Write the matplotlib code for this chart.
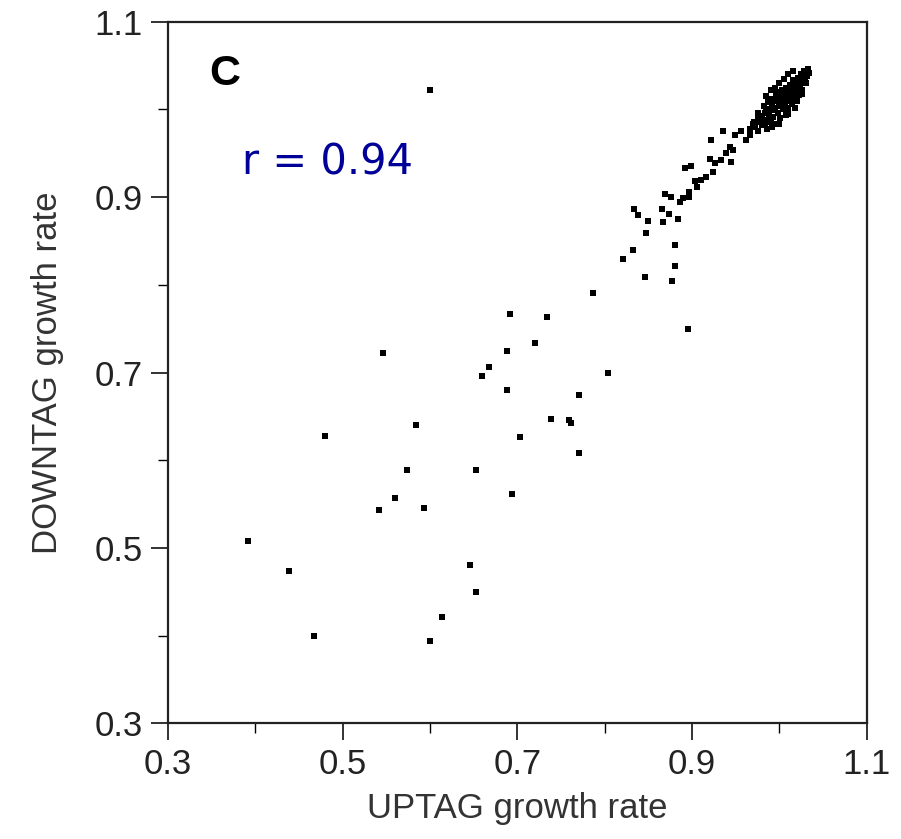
import numpy as np
import matplotlib
matplotlib.use("Agg")
import matplotlib.pyplot as plt
from matplotlib.ticker import MultipleLocator

plt.rcParams['font.family'] = ['Liberation Sans', 'DejaVu Sans']

# scattered strains (UPTAG, DOWNTAG growth rate)
up_low = [0.546, 0.668, 0.660, 0.480, 0.584, 0.574, 0.653, 0.560, 0.541, 0.593,
          0.391, 0.439, 0.646, 0.653, 0.614, 0.467, 0.600, 0.600]
down_low = [0.722, 0.706, 0.696, 0.628, 0.640, 0.589, 0.589, 0.557, 0.543, 0.546,
            0.508, 0.474, 0.480, 0.450, 0.421, 0.400, 0.394, 1.022]

up_mid = [0.786, 0.691, 0.734, 0.895, 0.720, 0.688, 0.688, 0.804, 0.771, 0.739,
          0.759, 0.761, 0.703, 0.770, 0.694,
          0.846, 0.877, 0.881, 0.881, 0.821, 0.832, 0.847, 0.834, 0.838, 0.849,
          0.865, 0.874, 0.867, 0.884, 0.869, 0.876, 0.886, 0.897, 0.897, 0.899,
          0.892, 0.903, 0.910, 0.916, 0.924, 0.920, 0.926, 0.922, 0.935, 0.933,
          0.939, 0.945, 0.943, 0.947, 0.949, 0.956, 0.962, 0.966, 0.890, 0.906]
down_mid = [0.791, 0.767, 0.763, 0.750, 0.734, 0.724, 0.680, 0.699, 0.674, 0.647,
            0.646, 0.642, 0.627, 0.608, 0.561,
            0.809, 0.804, 0.822, 0.845, 0.829, 0.840, 0.859, 0.886, 0.880, 0.873,
            0.886, 0.881, 0.872, 0.875, 0.904, 0.900, 0.895, 0.906, 0.900, 0.935,
            0.933, 0.918, 0.920, 0.923, 0.929, 0.944, 0.939, 0.965, 0.975, 0.942,
            0.950, 0.940, 0.957, 0.954, 0.971, 0.975, 0.965, 0.971, 0.899, 0.912]

# dense cluster near 1.0
up_top = [0.966, 0.970, 0.972, 0.975, 0.978, 0.980, 0.980, 0.983, 0.985, 0.986,
          0.988, 0.990, 0.990, 0.992, 0.993, 0.995, 0.996, 0.997, 0.998, 1.000,
          1.000, 1.001, 1.003, 1.004, 1.005, 1.006, 1.007, 1.008, 1.009, 1.010,
          1.011, 1.012, 1.013, 1.014, 1.015, 1.016, 1.017, 1.018, 1.019, 1.020,
          1.021, 1.022, 1.023, 1.024, 1.025, 1.026, 1.027, 1.028, 1.030, 1.031,
          1.033, 1.034, 1.003, 0.995, 0.985, 1.015, 0.975, 0.992, 0.985, 0.990,
          0.995, 1.000, 1.005, 1.010, 1.015, 1.010, 1.018, 1.000, 0.978, 0.989,
          0.982, 0.987, 0.992, 0.997, 1.002, 1.007, 1.012, 1.017, 1.022, 1.027,
          0.980, 0.986, 0.994, 0.999, 1.004, 1.009, 1.014, 1.019, 1.024, 1.029,
          0.988, 0.996, 1.003, 1.012, 1.020, 1.026, 1.032, 0.971, 0.976, 0.983]
down_top = [0.978, 0.984, 0.980, 0.990, 0.986, 0.992, 0.982, 0.996, 0.988, 0.978,
            0.994, 1.000, 0.986, 1.006, 0.992, 1.002, 0.984, 1.010, 0.996, 1.004,
            1.016, 0.990, 1.010, 1.000, 1.020, 1.006, 0.994, 1.014, 1.024, 1.002,
            1.010, 1.018, 1.028, 1.006, 1.014, 1.022, 1.032, 1.012, 1.020, 1.026,
            1.036, 1.016, 1.024, 1.030, 1.040, 1.022, 1.034, 1.044, 1.038, 1.030,
            1.046, 1.042, 1.022, 1.012, 1.000, 1.034, 0.976, 0.980, 1.015, 1.022,
            1.025, 1.030, 1.035, 1.040, 1.044, 0.995, 1.002, 0.984, 0.988, 0.992,
            1.004, 1.008, 1.012, 1.016, 1.020, 1.024, 1.028, 1.032, 1.036, 1.040,
            0.993, 0.996, 0.999, 1.008, 1.012, 1.016, 1.008, 1.026, 1.018, 1.036,
            1.009, 1.018, 1.016, 1.022, 1.010, 1.018, 1.038, 0.986, 0.996, 0.984]

uptag = up_low + up_mid + up_top
downtag = down_low + down_mid + down_top

fig = plt.figure(figsize=(9.01, 8.39), dpi=100)
ax = fig.add_axes([0.1865, 0.138, 0.7755, 0.836])

ax.scatter(uptag, downtag, s=24, marker='s', color='black', linewidths=0)

ax.set_xlim(0.3, 1.1)
ax.set_ylim(0.3, 1.1)
ax.xaxis.set_minor_locator(MultipleLocator(0.1))
ax.yaxis.set_minor_locator(MultipleLocator(0.1))
ax.set_xticks([0.3, 0.5, 0.7, 0.9, 1.1])
ax.set_yticks([0.3, 0.5, 0.7, 0.9, 1.1])
ax.set_xticklabels(['0.3', '0.5', '0.7', '0.9', '1.1'])
ax.set_yticklabels(['0.3', '0.5', '0.7', '0.9', '1.1'])
ax.tick_params(which='major', length=12, width=1.3, labelsize=25,
               colors='#222222', pad=6)
ax.tick_params(which='minor', length=7, width=1.0)
for sp in ax.spines.values():
    sp.set_linewidth(1.6)
    sp.set_color('#222222')

ax.set_xlabel('UPTAG growth rate', fontsize=25, color='#333333', labelpad=8)
ax.set_ylabel('DOWNTAG growth rate', fontsize=25, color='#333333', labelpad=22)

ax.text(0.365, 1.04, 'C', fontsize=31, fontweight='bold', ha='center', va='center')
ax.text(0.385, 0.94, 'r = 0.94', fontsize=30, color='#000099', ha='left', va='center',
        family=['DejaVu Sans'])

fig.savefig('out.png', dpi=100)
